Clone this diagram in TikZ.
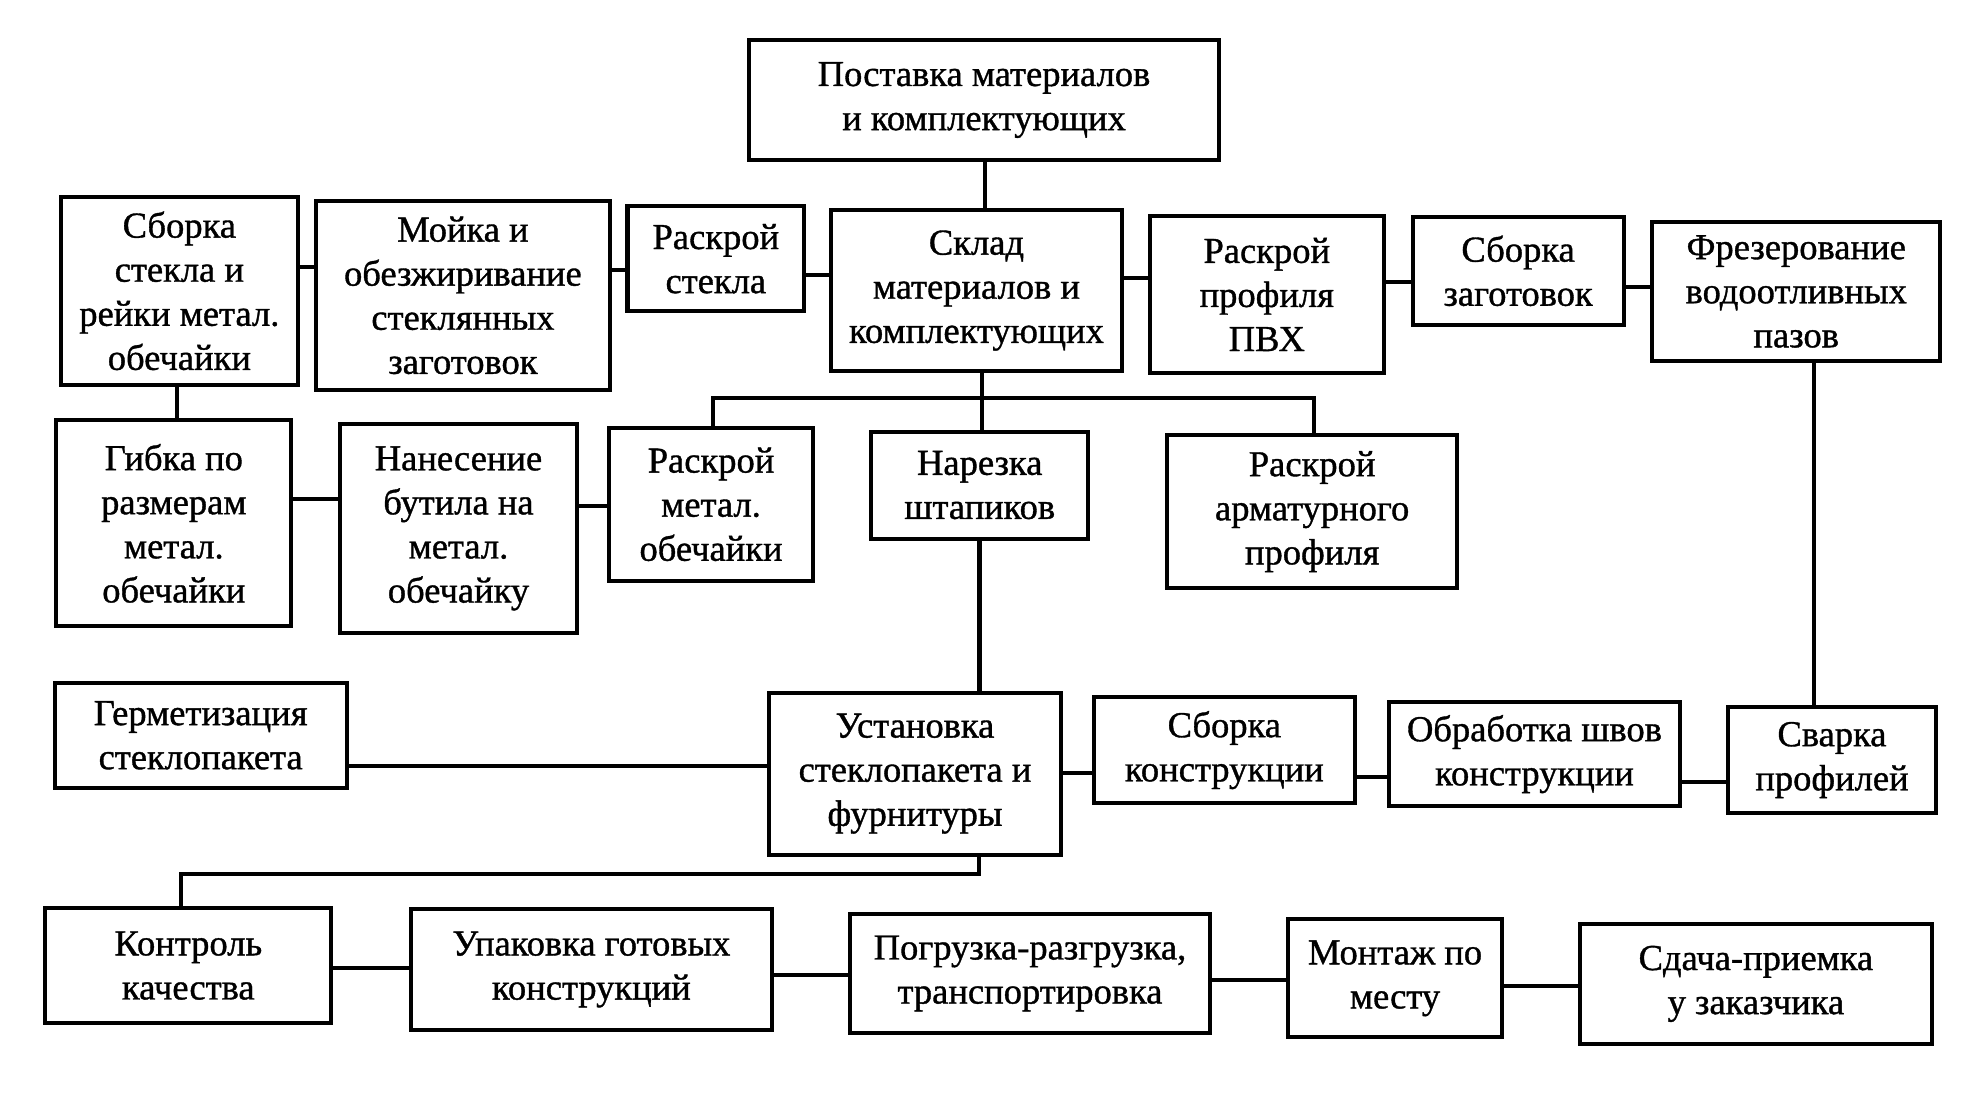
\documentclass[tikz,border=0pt]{standalone}
\usepackage{fontspec}
\setmainfont{Liberation Serif}[FakeBold=1]
\begin{document}
\begin{tikzpicture}[x=1pt,y=1pt,
  box/.style={draw, line width=3.2pt, rectangle, inner sep=0pt, align=center,
    font=\fontsize{29}{35}\selectfont},
  link/.style={line width=3.2pt}]
\useasboundingbox (0,0) rectangle (1560,-877);
\fill[white] (0,0) rectangle (1560,-877);
\newcommand{\bx}[6]{\node[box, minimum width=#4-3.2, minimum height=#5-3.2] (#1) at (#2,-#3) {#6};}
\bx{post}{781.2}{79.4}{375.7}{98}{Поставка материалов\\и комплектующих}
\bx{sbst}{142.4}{230.9}{191.1}{152.2}{Сборка\\стекла и\\рейки метал.\\обечайки}
\bx{moyka}{367.5}{234.5}{237}{153}{Мойка и\\обезжиривание\\стеклянных\\заготовок}
\bx{rst}{568.3}{205.4}{143.5}{86.7}{Раскрой\\стекла}
\bx{sklad}{775.2}{230.7}{234.7}{130.6}{Склад\\материалов и\\комплектующих}
\bx{rpvh}{1005.7}{233.8}{188.8}{127.8}{Раскрой\\профиля\\ПВХ}
\bx{szag}{1205.2}{215}{170.8}{88.6}{Сборка\\заготовок}
\bx{frez}{1426}{231.4}{232}{113.3}{Фрезерование\\водоотливных\\пазов}
\bx{gib}{138}{415.5}{189.9}{166.7}{Гибка по\\размерам\\метал.\\обечайки}
\bx{nan}{364}{419.5}{191.4}{169.3}{Нанесение\\бутила на\\метал.\\обечайку}
\bx{rmet}{564.5}{400.4}{165}{124.4}{Раскрой\\метал.\\обечайки}
\bx{nar}{777.8}{385.1}{175.5}{88.2}{Нарезка\\штапиков}
\bx{rarm}{1041.7}{406.2}{233.9}{124.4}{Раскрой\\арматурного\\профиля}
\bx{germ}{159.3}{583.8}{235}{86.8}{Герметизация\\стеклопакета}
\bx{ust}{726.4}{614.2}{235.3}{131.7}{Установка\\стеклопакета и\\фурнитуры}
\bx{skon}{972}{595.5}{209.9}{87.3}{Сборка\\конструкции}
\bx{obr}{1218.2}{598.7}{233.5}{86}{Обработка швов\\конструкции}
\bx{svar}{1454.4}{603.4}{168.7}{87.3}{Сварка\\профилей}
\bx{kontr}{149.5}{766.6}{230}{94.5}{Контроль\\качества}
\bx{upak}{469.5}{769.7}{289.6}{98.7}{Упаковка готовых\\конструкций}
\bx{pogr}{817.7}{772.8}{288.4}{97.9}{Погрузка-разгрузка,\\транспортировка}
\bx{mont}{1107.5}{776.7}{172.6}{96.8}{Монтаж по\\месту}
\bx{sdacha}{1394}{781.1}{283}{98.8}{Сдача-приемка\\у заказчика}
% connectors
\draw[link] (781.8,0 |- post.south) -- (781.8,0 |- sklad.north);
\draw[link] (sbst.east |- 0,-211.7) -- (moyka.west |- 0,-211.7);
\draw[link] (moyka.east |- 0,-214) -- (rst.west |- 0,-214);
\draw[link] (rst.east |- 0,-218.3) -- (sklad.west |- 0,-218.3);
\draw[link] (sklad.east |- 0,-221) -- (rpvh.west |- 0,-221);
\draw[link] (rpvh.east |- 0,-223.6) -- (szag.west |- 0,-223.6);
\draw[link] (szag.east |- 0,-227.6) -- (frez.west |- 0,-227.6);
\draw[link] (140.3,0 |- sbst.south) -- (140.3,0 |- gib.north);
\draw[link] (gib.east |- 0,-396.4) -- (nan.west |- 0,-396.4);
\draw[link] (nan.east |- 0,-401.7) -- (rmet.west |- 0,-401.7);
\coordinate (bus) at (779.4,-316);
\draw[link] (779.4,0 |- sklad.south) -- (bus);
\draw[link] (566,0 |- rmet.north) -- (566,-316) -- (1043.4,-316) -- (1043.4,0 |- rarm.north);
\draw[link] (bus) -- (779.4,0 |- nar.north);
\draw[link] (777.6,0 |- nar.south) -- (777.6,0 |- ust.north);
\draw[link] (1440,0 |- frez.south) -- (1440,0 |- svar.north);
\draw[link] (germ.east |- 0,-608) -- (ust.west |- 0,-608);
\draw[link] (ust.east |- 0,-614) -- (skon.west |- 0,-614);
\draw[link] (skon.east |- 0,-617.1) -- (obr.west |- 0,-617.1);
\draw[link] (obr.east |- 0,-620.6) -- (svar.west |- 0,-620.6);
\draw[link] (777,0 |- ust.south) -- (777,-694) -- (143.7,-694) -- (143.7,0 |- kontr.north);
\draw[link] (kontr.east |- 0,-768.8) -- (upak.west |- 0,-768.8);
\draw[link] (upak.east |- 0,-774) -- (pogr.west |- 0,-774);
\draw[link] (pogr.east |- 0,-778) -- (mont.west |- 0,-778);
\draw[link] (mont.east |- 0,-782.8) -- (sdacha.west |- 0,-782.8);
\end{tikzpicture}
\end{document}
